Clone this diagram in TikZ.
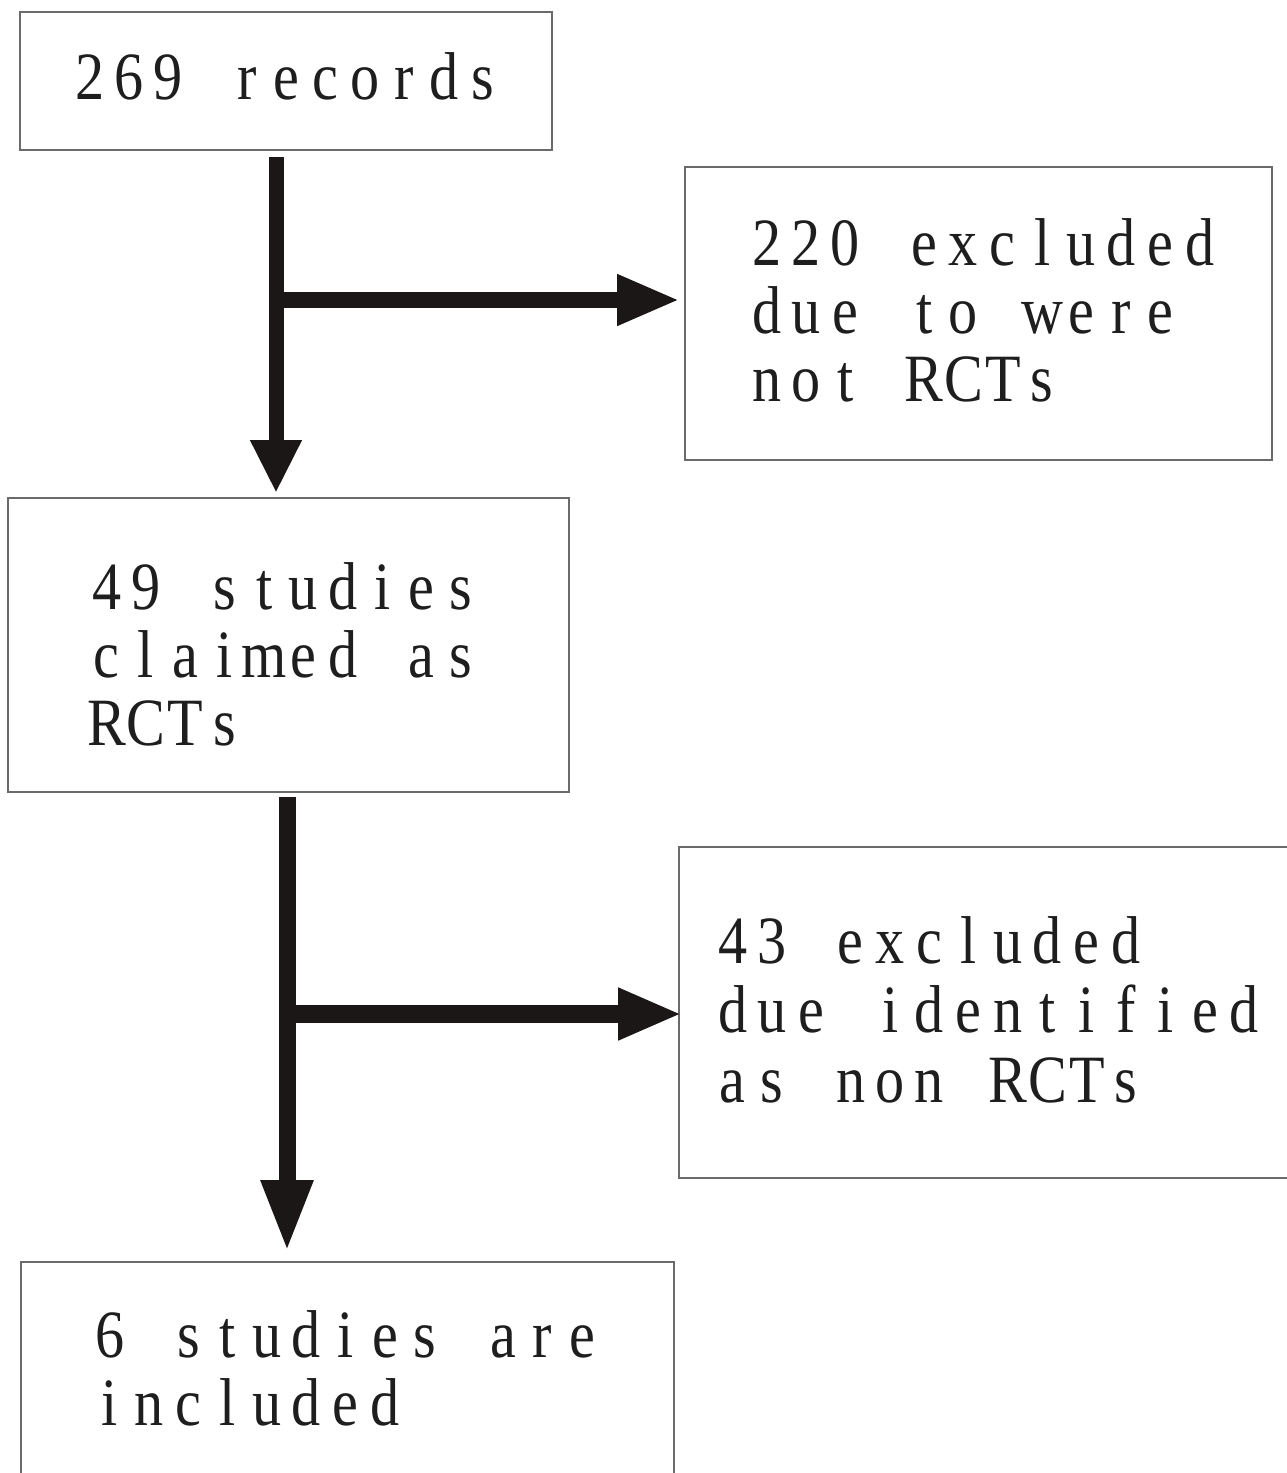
\documentclass[tikz,border=0pt]{standalone}
\usepackage{fontspec}
\setmainfont[FakeStretch=0.86]{Liberation Serif}
\usetikzlibrary{arrows.meta}
\definecolor{ink}{HTML}{1A1716}
\definecolor{frame}{HTML}{6A6A6A}
\definecolor{txtc}{HTML}{1E1E1E}
\newlength{\monopitch}
\setlength{\monopitch}{22.4pt}
\def\mono#1{\monoloop#1\relax}
\def\monoloop#1{\ifx#1\relax\else\makebox[\monopitch][c]{#1}\expandafter\monoloop\fi}
\tikzset{
  box/.style={draw=frame, line width=0.04cm, inner sep=0pt, outer sep=0pt},
  txt/.style={anchor=base west, inner sep=0pt, outer sep=0pt, text=txtc,
    font=\fontsize{38.5pt}{38.9pt}\selectfont},
  flow/.style={draw=ink, line width=#1},
}
\begin{document}
\begin{tikzpicture}[x=0.02cm, y=-0.02cm]
\clip (0,0) rectangle (1287,1473);
\fill[white] (0,0) rectangle (1287,1473);
% boxes
\node[box, minimum width=10.66cm, minimum height=2.76cm] (b1) at (286,81) {};
\node[box, minimum width=11.74cm, minimum height=5.86cm] (b2) at (978.5,313.5) {};
\node[box, minimum width=11.22cm, minimum height=5.88cm] (b3) at (288.5,645) {};
\node[box, minimum width=12.42cm, minimum height=6.62cm] (b4) at (989.5,1012.5) {};
\node[box, minimum width=13.06cm, minimum height=4.56cm] (b5) at (347.5,1376) {};
% texts
\node[txt] (t1) at (70,100) {\mono{269~records}};
\node[txt] (t2) at (747,265) {\begin{tabular}[t]{@{}l@{}}\mono{220~excluded}\\ \mono{due~to~were}\\ \mono{not~RCTs}\end{tabular}};
\node[txt] (t3) at (87,609) {\begin{tabular}[t]{@{}l@{}}\mono{49~studies}\\ \mono{claimed~as}\\ \mono{RCTs}\end{tabular}};
\node[txt, font=\fontsize{38.5pt}{39.7pt}\selectfont] (t4) at (713,963) {\begin{tabular}[t]{@{}l@{}}\mono{43~excluded}\\ \mono{due~identified}\\ \mono{as~non~RCTs}\end{tabular}};
\node[txt] (t5) at (90,1357) {\begin{tabular}[t]{@{}l@{}}\mono{6~studies~are}\\ \mono{included}\end{tabular}};
% connectors
\coordinate (s1) at (276,157);
\coordinate (j1) at (276,300);
\coordinate (s2) at (287,797);
\coordinate (j2) at (287,1014);
\draw[flow=0.3cm, -{Triangle[width=0.96cm, length=1.06cm]}, shorten >=0.1cm] (s1) -- (s1 |- b3.north);
\draw[flow=0.32cm, -{Triangle[width=0.94cm, length=1.26cm]}, shorten >=0.1cm] (j1) -- (j1 -| b2.west);
\draw[flow=0.34cm, -{Triangle[width=0.96cm, length=1.44cm]}, shorten >=0.2cm] (s2) -- (s2 |- b5.north);
\draw[flow=0.36cm, -{Triangle[width=0.96cm, length=1.28cm]}, shorten >=-0.06cm] (j2) -- (j2 -| b4.west);
\end{tikzpicture}
\end{document}
